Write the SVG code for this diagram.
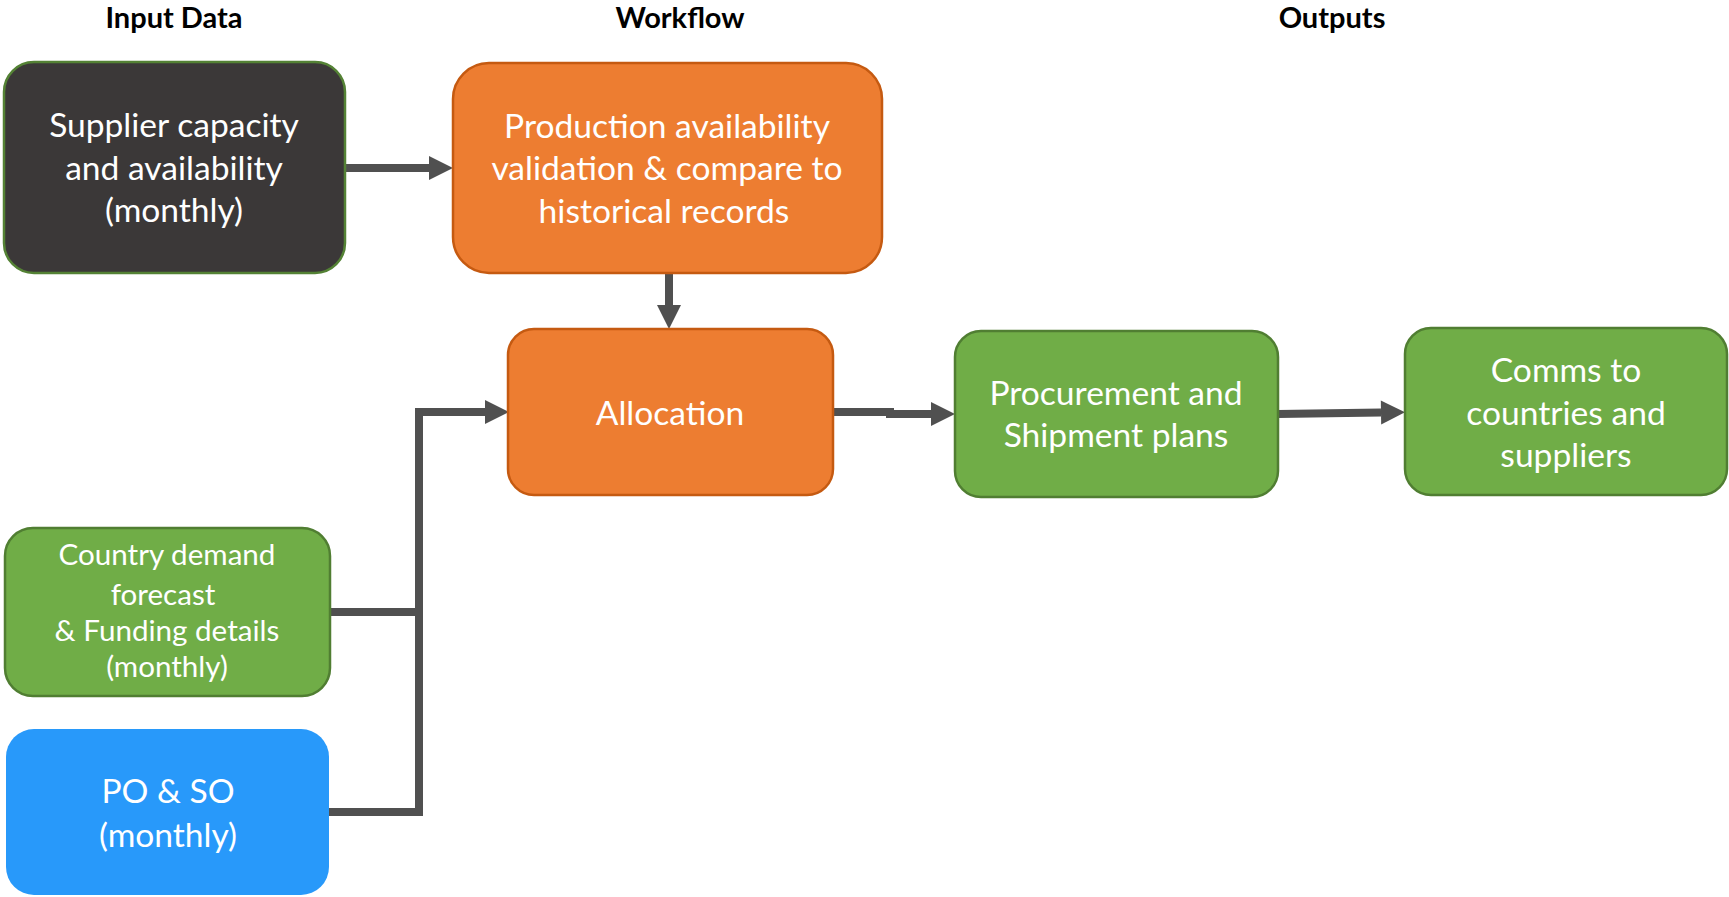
<svg xmlns="http://www.w3.org/2000/svg" width="1729" height="897" viewBox="0 0 1729 897">
  <defs>
    <style>
      .hdr { font-family: Lato, "Open Sans", "Liberation Sans", sans-serif; font-weight: bold; font-size: 29px; fill: #000; text-anchor: middle; }
      .lbl { font-family: Lato, "Open Sans", "Liberation Sans", sans-serif; font-size: 33.6px; fill: #fff; text-anchor: middle; }
      .lbl-s { font-family: Lato, "Open Sans", "Liberation Sans", sans-serif; font-size: 29.6px; fill: #fff; text-anchor: middle; }
      .dark { fill: #3B3838; stroke: #548235; stroke-width: 2.5; }
      .orange { fill: #ED7D31; stroke: #C55A11; stroke-width: 2.5; }
      .green { fill: #70AD47; stroke: #507E32; stroke-width: 2.5; }
      .blue { fill: #2899FA; stroke: none; }
      .conn { fill: none; stroke: #505050; stroke-width: 8; stroke-linejoin: miter; }
    </style>
    <marker id="arrow" markerUnits="userSpaceOnUse" markerWidth="24" markerHeight="24" viewBox="0 0 24 24" refX="0" refY="12" orient="auto" overflow="visible">
      <path d="M0,0 L24,12 L0,24 z" fill="#505050"/>
    </marker>
  </defs>

  <g id="headers">
    <text class="hdr" x="174" y="28">Input Data</text>
    <text class="hdr" x="680" y="28">Workflow</text>
    <text class="hdr" x="1332" y="28">Outputs</text>
  </g>

  <g id="connectors">
    <path class="conn" d="M345,168 H429" marker-end="url(#arrow)"/>
    <path class="conn" d="M669,273 V305" marker-end="url(#arrow)"/>
    <path class="conn" d="M330,612 H419"/>
    <path class="conn" d="M329,812 H419 V412 H485" marker-end="url(#arrow)"/>
    <path class="conn" d="M833,412 H890 V414 H931" marker-end="url(#arrow)"/>
    <path class="conn" d="M1278,414 L1381,412.5" marker-end="url(#arrow)"/>
  </g>

  <g id="supplier">
    <rect class="dark" x="4" y="62" width="341" height="211" rx="30"/>
    <text class="lbl" x="174" y="137">Supplier capacity</text>
    <text class="lbl" x="174" y="180">and availability</text>
    <text class="lbl" x="174" y="222">(monthly)</text>
  </g>

  <g id="production">
    <rect class="orange" x="453" y="63" width="429" height="210" rx="36"/>
    <text class="lbl" x="667" y="138">Production availability</text>
    <text class="lbl" x="667" y="180">validation &amp; compare to</text>
    <text class="lbl" x="664" y="223">historical records</text>
  </g>

  <g id="allocation">
    <rect class="orange" x="508" y="329" width="325" height="166" rx="26"/>
    <text class="lbl" x="670" y="425">Allocation</text>
  </g>

  <g id="procurement">
    <rect class="green" x="955" y="331" width="323" height="166" rx="26"/>
    <text class="lbl" x="1116" y="405">Procurement and</text>
    <text class="lbl" x="1116" y="447">Shipment plans</text>
  </g>

  <g id="comms">
    <rect class="green" x="1405" y="328" width="322" height="167" rx="26"/>
    <text class="lbl" x="1566" y="382">Comms to</text>
    <text class="lbl" x="1566" y="425">countries and</text>
    <text class="lbl" x="1566" y="467">suppliers</text>
  </g>

  <g id="country">
    <rect class="green" x="5" y="528" width="325" height="168" rx="28"/>
    <text class="lbl-s" x="167" y="565">Country demand</text>
    <text class="lbl-s" x="163" y="605">forecast</text>
    <text class="lbl-s" x="167" y="641">&amp; Funding details</text>
    <text class="lbl-s" x="167" y="677">(monthly)</text>
  </g>

  <g id="po-so">
    <rect class="blue" x="6" y="729" width="323" height="166" rx="28"/>
    <text class="lbl" x="168" y="803">PO &amp; SO</text>
    <text class="lbl" x="168" y="847">(monthly)</text>
  </g>
</svg>
